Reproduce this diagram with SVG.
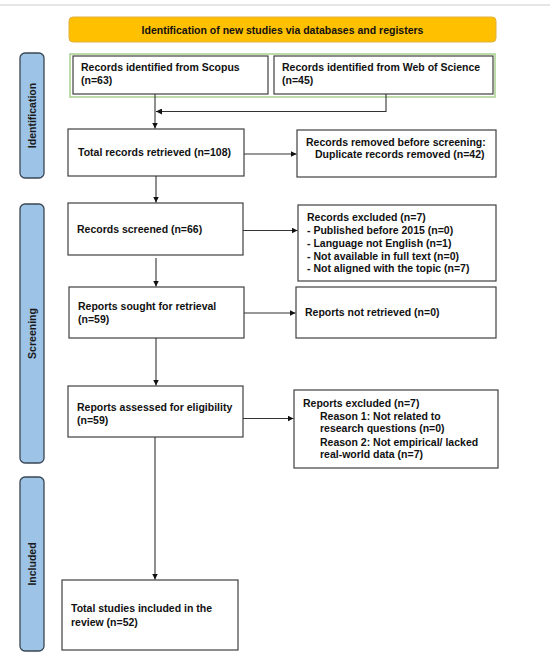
<svg xmlns="http://www.w3.org/2000/svg" width="550" height="656" viewBox="0 0 550 656">
<defs>
<marker id="ah" viewBox="0 0 10 10" refX="10" refY="5" markerWidth="6" markerHeight="6" markerUnits="userSpaceOnUse" orient="auto">
<path d="M0,0 L10,5 L0,10 z" fill="#111"/>
</marker>
<style>
.box{fill:#fff;stroke:#404040;stroke-width:1.2}
.tab{fill:#9dc3e6;stroke:#3a4654;stroke-width:1.3}
.t{font-family:"Liberation Sans",Arial,sans-serif;font-weight:bold;font-size:10.5px;fill:#111}
.tl{font-family:"Liberation Sans",Arial,sans-serif;font-weight:bold;font-size:10.5px;fill:#1a1a1a}
.c{fill:none;stroke:#333;stroke-width:1.1}
</style>
</defs>
<rect width="550" height="656" fill="#fff"/>
<line x1="0" y1="5" x2="550" y2="5" stroke="#e6e6e6" stroke-width="2"/>

<g id="banner">
<rect x="69" y="17" width="427" height="25" rx="4" fill="#ffc000" stroke="#e0b040" stroke-width="1"/>
<text class="t" x="282.5" y="33.5" text-anchor="middle">Identification of new studies via databases and registers</text>
</g>

<g id="tab-identification">
<rect class="tab" x="20" y="53" width="24" height="125" rx="5"/>
<text class="tl" transform="translate(36,115.5) rotate(-90)" text-anchor="middle">Identification</text>
</g>
<g id="tab-screening">
<rect class="tab" x="20" y="204" width="24" height="259" rx="5"/>
<text class="tl" transform="translate(36,333.5) rotate(-90)" text-anchor="middle">Screening</text>
</g>
<g id="tab-included">
<rect class="tab" x="20" y="477" width="24" height="174" rx="5"/>
<text class="tl" transform="translate(36,564) rotate(-90)" text-anchor="middle">Included</text>
</g>

<g id="sources">
<rect x="70" y="54" width="425" height="43" fill="none" stroke="#a9d18e" stroke-width="1.5"/>
</g>
<g id="scopus">
<rect class="box" x="73" y="56" width="195" height="38"/>
<text class="t" x="81" y="71">Records identified from Scopus</text>
<text class="t" x="81" y="84">(n=63)</text>
</g>
<g id="wos">
<rect class="box" x="274" y="56" width="219" height="38"/>
<text class="t" x="282" y="71">Records identified from Web of Science</text>
<text class="t" x="282" y="84">(n=45)</text>
</g>

<g id="total">
<rect class="box" x="68" y="129" width="176" height="47"/>
<text class="t" x="78" y="156">Total records retrieved (n=108)</text>
</g>
<g id="removed">
<rect class="box" x="297" y="130" width="199" height="47"/>
<text class="t" x="306" y="146">Records removed before screening:</text>
<text class="t" x="315" y="158">Duplicate records removed (n=42)</text>
</g>

<g id="screened">
<rect class="box" x="68" y="203" width="175" height="52"/>
<text class="t" x="77" y="233">Records screened (n=66)</text>
</g>
<g id="excluded">
<rect class="box" x="298" y="205" width="198" height="76"/>
<text class="t" x="307" y="221">Records excluded (n=7)</text>
<text class="t" x="307" y="234">- Published before 2015 (n=0)</text>
<text class="t" x="307" y="247">- Language not English (n=1)</text>
<text class="t" x="307" y="260">- Not available in full text (n=0)</text>
<text class="t" x="307" y="272">- Not aligned with the topic (n=7)</text>
</g>

<g id="sought">
<rect class="box" x="69" y="287" width="175" height="51"/>
<text class="t" x="78" y="310">Reports sought for retrieval</text>
<text class="t" x="78" y="323">(n=59)</text>
</g>
<g id="notretrieved">
<rect class="box" x="296" y="287" width="200" height="51"/>
<text class="t" x="305" y="316">Reports not retrieved (n=0)</text>
</g>

<g id="assessed">
<rect class="box" x="68" y="386" width="175" height="51"/>
<text class="t" x="77" y="411">Reports assessed for eligibility</text>
<text class="t" x="77" y="424">(n=59)</text>
</g>
<g id="reportsexcluded">
<rect class="box" x="294" y="390" width="204" height="78"/>
<text class="t" x="303" y="407">Reports excluded (n=7)</text>
<text class="t" x="320" y="420">Reason 1: Not related to</text>
<text class="t" x="320" y="432">research questions (n=0)</text>
<text class="t" x="320" y="446">Reason 2: Not empirical/ lacked</text>
<text class="t" x="320" y="458">real-world data (n=7)</text>
</g>

<g id="included">
<rect class="box" x="62" y="580" width="176" height="70"/>
<text class="t" x="71" y="612">Total studies included in the</text>
<text class="t" x="71" y="626">review (n=52)</text>
</g>

<g id="connectors">
<path class="c" d="M155,94 V128.5" marker-end="url(#ah)"/>
<path class="c" d="M386,94 V111.5 H156" marker-end="url(#ah)"/>
<path class="c" d="M244,154 H296.5" marker-end="url(#ah)"/>
<path class="c" d="M156,176 V202.5" marker-end="url(#ah)"/>
<path class="c" d="M243,230.5 H297.5" marker-end="url(#ah)"/>
<path class="c" d="M156,258 V286.5" marker-end="url(#ah)"/>
<path class="c" d="M244,313 H295.5" marker-end="url(#ah)"/>
<path class="c" d="M156,338 V385.5" marker-end="url(#ah)"/>
<path class="c" d="M243,418.5 H293.5" marker-end="url(#ah)"/>
<path class="c" d="M155,437 V579.5" marker-end="url(#ah)"/>
</g>
</svg>
